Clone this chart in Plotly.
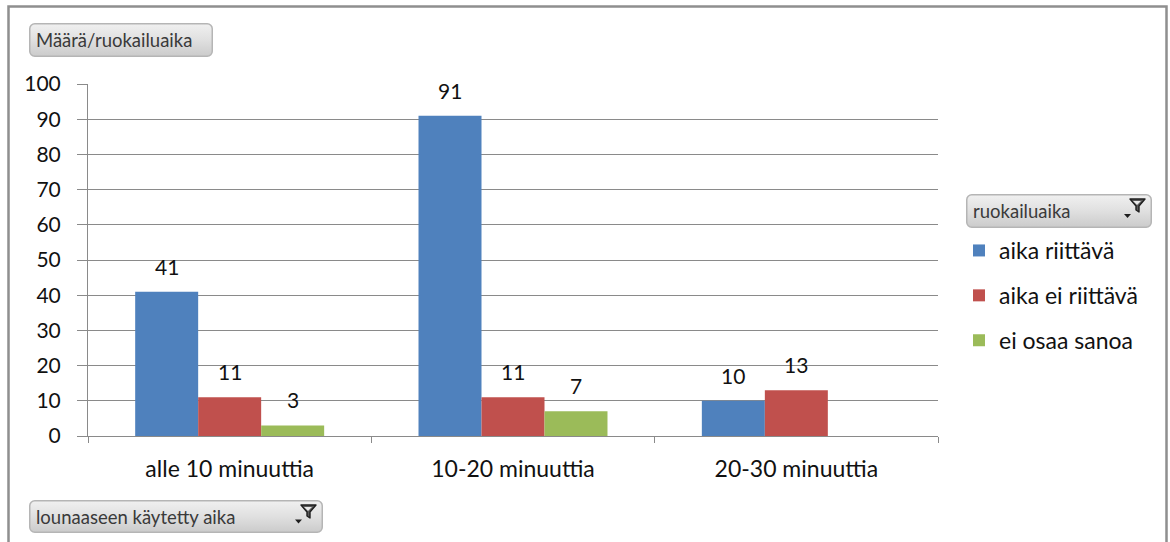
import base64
import plotly.graph_objects as go

# Lunch time survey: how long lunch takes vs. whether the time is sufficient
categories = ["alle 10 minuuttia", "10-20 minuuttia", "20-30 minuuttia"]
series_names = ["aika riittävä", "aika ei riittävä", "ei osaa sanoa"]
aika_riittava = [41, 91, 10]
aika_ei_riittava = [11, 11, 13]
ei_osaa_sanoa = [3, 7, None]
y_ticks = [0, 10, 20, 30, 40, 50, 60, 70, 80, 90, 100]

series_values = [aika_riittava, aika_ei_riittava, ei_osaa_sanoa]
colors = ["#4F81BD", "#C0504D", "#9BBB59"]

W, H = 1170, 542
FONT = "Lato, 'DejaVu Sans', sans-serif"
GRID = "#8a8a8a"
TXT = "#111111"


def px(x):
    return x / W


def py(y):
    return 1 - y / H


fig = go.Figure()
for name, vals, col in zip(series_names, series_values, colors):
    fig.add_trace(go.Bar(
        x=categories, y=vals, name=name, legendgroup=name,
        marker=dict(color=col, line=dict(width=0)),
        hoverinfo="x+y+name",
    ))

# value labels above each bar
bar_px = 63
offsets = [-bar_px, 0, bar_px]
annotations = []
for vals, off in zip(series_values, offsets):
    for cat, v in zip(categories, vals):
        if v is None:
            continue
        annotations.append(dict(
            x=cat, y=v, xref="x", yref="y", text=str(v), showarrow=False,
            xshift=off, yshift=11, yanchor="bottom",
            font=dict(family=FONT, size=21, color=TXT),
        ))


def button_svg(w, h, funnel):
    parts = [
        f'<svg xmlns="http://www.w3.org/2000/svg" width="{w}" height="{h}" viewBox="0 0 {w} {h}">',
        '<defs><linearGradient id="g" x1="0" y1="0" x2="0" y2="1">'
        '<stop offset="0" stop-color="#f0f0f0"/><stop offset="0.5" stop-color="#e0e0e0"/>'
        '<stop offset="1" stop-color="#cbcbcb"/></linearGradient></defs>',
        f'<rect x="0.75" y="0.75" width="{w-1.5}" height="{h-1.5}" rx="5" ry="5" '
        'fill="url(#g)" stroke="#b5b5b5" stroke-width="1.5"/>',
    ]
    if funnel:
        r = w - 7
        parts.append(
            f'<path d="M{r-15},5 L{r},5 L{r-6},12 L{r-6},18 L{r-9},16 L{r-9},12 Z" '
            'fill="#5a5a5a" stroke="#1f1f1f" stroke-width="1.4" stroke-linejoin="round"/>'
        )
        parts.append(
            f'<path d="M{r-12},7 L{r-4},7 L{r-8},11 Z" fill="#e8e8e8"/>'
        )
        parts.append(
            f'<path d="M{r-21},{h/2+3} L{r-14},{h/2+3} L{r-17.5},{h/2+7} Z" fill="#1f1f1f"/>'
        )
    parts.append('</svg>')
    svg = "".join(parts)
    return "data:image/svg+xml;base64," + base64.b64encode(svg.encode()).decode()


buttons = [
    # (left, top, width, height, label, funnel)
    (29, 23, 184, 34, "Määrä/ruokailuaika", False),
    (966, 194, 186, 34, "ruokailuaika", True),
    (29, 500, 294, 33, "lounaaseen käytetty aika", True),
]
images = []
for x0, y0, w, h, label, funnel in buttons:
    images.append(dict(
        source=button_svg(w, h, funnel), xref="paper", yref="paper",
        x=px(x0), y=py(y0), sizex=w / W, sizey=h / H,
        xanchor="left", yanchor="top", sizing="stretch", layer="above",
    ))
    annotations.append(dict(
        x=px(x0 + 5), y=py(y0 + h / 2), xref="paper", yref="paper",
        text=label, showarrow=False, xanchor="left", yanchor="middle",
        font=dict(family=FONT, size=18.5, color="#3a3a3a"),
    ))

shapes = [
    # outer chart frame
    dict(type="rect", xref="paper", yref="paper",
         x0=px(8.5), x1=px(1166.5), y0=py(560), y1=py(6.5),
         line=dict(color="#8f8f8f", width=2.5), fillcolor="rgba(0,0,0,0)", layer="below"),
]

fig.update_layout(
    template="none",
    width=W, height=H,
    margin=dict(l=0, r=0, t=0, b=0, pad=0, autoexpand=False),
    paper_bgcolor="white", plot_bgcolor="white",
    barmode="group", bargap=0.333, bargroupgap=0,
    font=dict(family=FONT, size=21, color=TXT),
    xaxis=dict(
        domain=[px(88), px(938)], type="category", range=[-0.5, 2.5],
        automargin=False,
        showline=True, linecolor=GRID, linewidth=1,
        ticks="outside", tickson="boundaries", ticklen=6, tickcolor=GRID,
        showgrid=False, zeroline=False, ticklabelstandoff=12,
        tickfont=dict(family=FONT, size=23, color=TXT),
        fixedrange=True,
    ),
    yaxis=dict(
        domain=[py(436), py(84)], range=[0, 100],
        automargin=False,
        tickvals=y_ticks, ticktext=[str(t) for t in y_ticks],
        showline=True, linecolor=GRID, linewidth=1,
        ticks="outside", ticklen=10, tickcolor=GRID,
        showgrid=True, gridcolor=GRID, gridwidth=1, zeroline=False,
        ticklabelstandoff=12,
        tickfont=dict(family=FONT, size=21, color=TXT),
        fixedrange=True,
    ),
    legend=dict(
        x=px(959), y=py(229), xanchor="left", yanchor="top",
        font=dict(family=FONT, size=23, color=TXT),
        traceorder="grouped", tracegroupgap=12,
        bgcolor="rgba(0,0,0,0)", borderwidth=0,
        itemclick=False, itemdoubleclick=False,
    ),
    showlegend=True,
    annotations=annotations,
    images=images,
    shapes=shapes,
)

fig.write_html("out.html")
